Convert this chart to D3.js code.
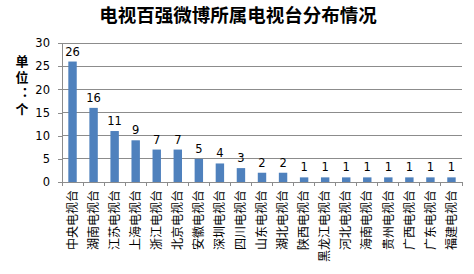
<!DOCTYPE html>
<html>
<head>
<meta charset="utf-8">
<script src="https://cdn.jsdelivr.net/npm/d3@7"></script>
<style>
  body { margin: 0; background: #fff; }
  svg text { font-family: "Noto Sans CJK SC", "DejaVu Sans", sans-serif; }
</style>
</head>
<body>
<div id="chart"></div>
<script>
const stations = ["中央电视台", "湖南电视台", "江苏电视台", "上海电视台", "浙江电视台", "北京电视台",
  "安徽电视台", "深圳电视台", "四川电视台", "山东电视台", "湖北电视台", "陕西电视台",
  "黑龙江电视台", "河北电视台", "海南电视台", "贵州电视台", "广西电视台", "广东电视台", "福建电视台"];
const counts = [26, 16, 11, 9, 7, 7, 5, 4, 3, 2, 2, 1, 1, 1, 1, 1, 1, 1, 1];
const yTicks = [0, 5, 10, 15, 20, 25, 30];
const chartTitle = "电视百强微博所属电视台分布情况";
const yLabel = "单位：个";

const W = 474, H = 274;
const margin = {top: 43, right: 12, bottom: 92, left: 62};
const width = W - margin.left - margin.right;
const height = H - margin.top - margin.bottom;

const svg = d3.select("#chart").append("svg")
    .attr("width", W)
    .attr("height", H);

svg.append("text")
    .attr("x", 238).attr("y", 22)
    .attr("text-anchor", "middle")
    .style("font-size", "18.5px")
    .style("font-weight", "bold")
    .text(chartTitle);

// vertical unit label
svg.append("text")
    .attr("x", 22).attr("y", 55)
    .style("writing-mode", "vertical-rl")
    .style("font-size", "13px")
    .style("font-weight", "bold")
    .style("letter-spacing", "3px")
    .text(yLabel);

const g = svg.append("g").attr("transform", `translate(${margin.left},${margin.top})`);

const x = d3.scaleBand().domain(stations).range([0, width]).paddingInner(0.6).paddingOuter(0.3);
const y = d3.scaleLinear().domain([0, 30]).range([height, 0]);

// gridlines
g.append("g").selectAll("line")
    .data(yTicks.slice(1))
    .join("line")
    .attr("x1", 0).attr("x2", width)
    .attr("y1", d => y(d)).attr("y2", d => y(d))
    .attr("stroke", "#8c8c8c").attr("stroke-width", 1)
    .attr("shape-rendering", "crispEdges");

// y axis
const yAxis = g.append("g")
    .call(d3.axisLeft(y).tickValues(yTicks).tickSize(4).tickPadding(8));
yAxis.selectAll("text").style("font-size", "11.5px").attr("fill", "#000")
    .style("font-family", "'DejaVu Sans', sans-serif");
yAxis.selectAll("line, path").attr("stroke", "#8c8c8c").attr("shape-rendering", "crispEdges");

// bars
g.append("g").selectAll("rect")
    .data(counts)
    .join("rect")
    .attr("x", (d, i) => x(stations[i]))
    .attr("y", d => y(d))
    .attr("width", x.bandwidth())
    .attr("height", d => height - y(d))
    .attr("fill", "#4f81bd");

// value labels
g.append("g").selectAll("text")
    .data(counts)
    .join("text")
    .attr("x", (d, i) => x(stations[i]) + x.bandwidth() / 2)
    .attr("y", d => y(d) - 6)
    .attr("text-anchor", "middle")
    .style("font-size", "11.5px")
    .style("font-family", "'DejaVu Sans', sans-serif")
    .text(d => d);

// x axis with ticks between categories
const xb = g.append("g").attr("transform", `translate(0,${height})`);
xb.append("line").attr("x1", 0).attr("x2", width)
    .attr("stroke", "#8c8c8c").attr("shape-rendering", "crispEdges");
xb.selectAll("line.tk")
    .data(d3.range(stations.length + 1))
    .join("line").attr("class", "tk")
    .attr("x1", i => i * width / stations.length).attr("x2", i => i * width / stations.length)
    .attr("y1", 0).attr("y2", 4)
    .attr("stroke", "#8c8c8c").attr("shape-rendering", "crispEdges");

xb.selectAll("text")
    .data(stations)
    .join("text")
    .attr("transform", d => `translate(${x(d) + x.bandwidth() / 2},8) rotate(-90)`)
    .attr("text-anchor", "end")
    .attr("dy", "0.35em")
    .style("font-size", "12px")
    .text(d => d);
</script>
</body>
</html>
